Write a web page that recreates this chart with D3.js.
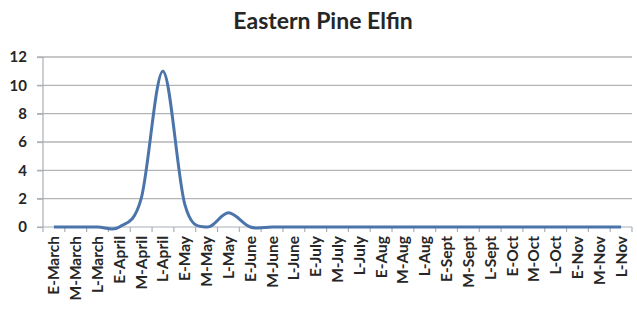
<!DOCTYPE html>
<html>
<head>
<meta charset="utf-8">
<title>Eastern Pine Elfin</title>
<style>
body { margin: 0; background: #fff; }
text { font-family: Lato, "Open Sans", sans-serif; font-weight: bold; fill: #262626; }
.grid line { stroke: #b4b4b4; stroke-width: 1.3px; }
.axis path, .axis line { stroke: #a8b0b8; stroke-width: 1.2px; }
path.series { fill: none; stroke: #4a74aa; stroke-width: 3px; }
</style>
</head>
<body>
<script src="https://cdn.jsdelivr.net/npm/d3@7"></script>
<script>

var periods = ["E-March", "M-March", "L-March", "E-April", "M-April", "L-April",
  "E-May", "M-May", "L-May", "E-June", "M-June", "L-June",
  "E-July", "M-July", "L-July", "E-Aug", "M-Aug", "L-Aug",
  "E-Sept", "M-Sept", "L-Sept", "E-Oct", "M-Oct", "L-Oct",
  "E-Nov", "M-Nov", "L-Nov"];

var counts = [0, 0, 0, 0, 2, 11,
  1.6, 0, 1, 0, 0, 0,
  0, 0, 0, 0, 0, 0,
  0, 0, 0, 0, 0, 0,
  0, 0, 0];

var yTicks = [0, 2, 4, 6, 8, 10, 12];

var width = 637, height = 325;
var plotLeft = 43, plotRight = 632, plotTop = 57, plotBottom = 227;

var svg = d3.select("body").append("svg")
    .attr("width", width)
    .attr("height", height);

var x = d3.scaleBand().domain(periods).range([plotLeft, plotRight]).padding(0);
var y = d3.scaleLinear().domain([0, 12]).range([plotBottom, plotTop]);

// title
svg.append("text")
    .attr("x", 323)
    .attr("y", 29)
    .attr("text-anchor", "middle")
    .style("font-size", "23px")
    .text("Eastern Pine Elfin");

// horizontal gridlines
svg.append("g")
    .attr("class", "grid")
    .selectAll("line")
    .data(yTicks.filter(function(d) { return d > 0; }))
    .enter().append("line")
    .attr("x1", plotLeft - 6)
    .attr("x2", plotRight)
    .attr("y1", function(d) { return y(d); })
    .attr("y2", function(d) { return y(d); });

// y axis
var yAxis = svg.append("g")
    .attr("class", "axis")
    .attr("transform", "translate(" + plotLeft + ",0)")
    .call(d3.axisLeft(y).tickValues(yTicks).tickSize(6).tickPadding(10));
yAxis.select(".domain").attr("d", "M0," + plotTop + "V" + plotBottom);
yAxis.selectAll("text").style("font-size", "15px").style("font-family", "Lato, sans-serif");

// x axis, ticks sit between categories
var xAxis = svg.append("g")
    .attr("class", "axis")
    .attr("transform", "translate(0," + plotBottom + ")");
xAxis.append("line")
    .attr("x1", plotLeft - 6).attr("x2", plotRight).attr("y1", 0).attr("y2", 0);
xAxis.selectAll("line.tick")
    .data(periods.concat(["end"]))
    .enter().append("line")
    .attr("class", "tick")
    .attr("x1", function(d, i) { return plotLeft + i * x.bandwidth(); })
    .attr("x2", function(d, i) { return plotLeft + i * x.bandwidth(); })
    .attr("y1", 0).attr("y2", 5);
xAxis.selectAll("text")
    .data(periods)
    .enter().append("text")
    .attr("transform", function(d) {
      return "translate(" + (x(d) + x.bandwidth() / 2 + 5.5) + ",9) rotate(-90)";
    })
    .attr("text-anchor", "end")
    .style("font-size", "15.5px")
    .text(function(d) { return d; });

// smoothed line
var line = d3.line()
    .x(function(d, i) { return x(periods[i]) + x.bandwidth() / 2; })
    .y(function(d) { return y(d); })
    .curve(d3.curveCatmullRom.alpha(0));

svg.append("path")
    .datum(counts)
    .attr("class", "series")
    .attr("d", line);

</script>
</body>
</html>
